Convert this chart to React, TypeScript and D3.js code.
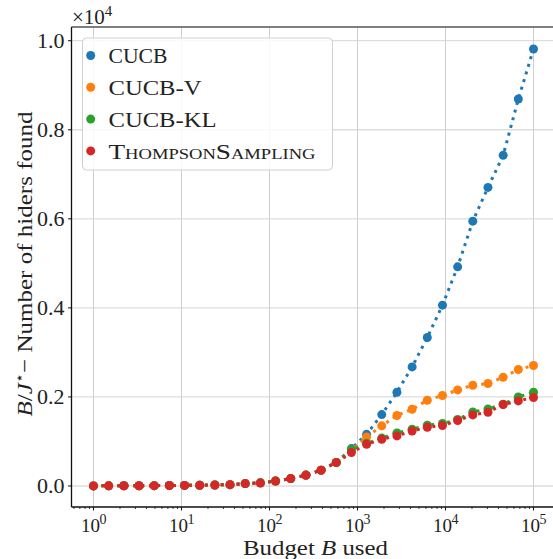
import React from "react";
import * as d3 from "d3";

const budget = [1, 1.487, 2.212, 3.29, 4.894, 7.279, 10.83, 16.1, 23.95, 35.62, 52.98, 78.8, 117.2, 174.3, 259.3, 385.7, 573.7, 853.2, 1269, 1887, 2807, 4175, 6210, 9237, 13738, 20434, 30392, 45204, 67234, 100000];
const cucb = [2, 3, 4, 6, 8, 10, 13, 17, 22, 30, 54, 70, 112, 166, 245, 355, 530, 840, 1160, 1604, 2106, 2674, 3335, 4061, 4922, 5948, 6706, 7425, 8690, 9813];
const cucbV = [2, 3, 4, 6, 8, 10, 13, 17, 22, 30, 54, 70, 112, 166, 245, 355, 530, 810, 1101, 1350, 1582, 1724, 1926, 2031, 2157, 2263, 2301, 2443, 2615, 2705];
const cucbKL = [2, 3, 4, 6, 8, 10, 13, 17, 22, 30, 54, 70, 112, 166, 245, 355, 530, 818, 960, 1075, 1191, 1274, 1364, 1402, 1492, 1663, 1731, 1836, 2000, 2106];
const thompson = [2, 3, 4, 6, 8, 10, 13, 17, 22, 30, 54, 68, 110, 166, 240, 353, 526, 750, 935, 1049, 1124, 1236, 1319, 1357, 1470, 1596, 1656, 1829, 1910, 1987];

const seriesNames = ["CUCB", "CUCB-V", "CUCB-KL", "ThompsonSampling"];
const seriesValues = [cucb, cucbV, cucbKL, thompson];
const seriesColors = ["#1f77b4", "#ff7f0e", "#2ca02c", "#d62728"];

const yTicks = [0, 2000, 4000, 6000, 8000, 10000];
const yTickLabels = ["0.0", "0.2", "0.4", "0.6", "0.8", "1.0"];
const xTicks = [1, 10, 100, 1000, 10000, 100000];
const xTickExps = ["0", "1", "2", "3", "4", "5"];

const W = 553, H = 559;
const L = 71.5, R = 555.5, T = 27, B = 507;

export default function App() {
  const x = d3.scaleLog().domain([Math.pow(10, -0.25), Math.pow(10, 5.25)]).range([L, R]);
  const y = d3.scaleLinear().domain([-472, 10308]).range([B, T]);
  const line = d3.line<number>().x((_, i) => x(budget[i])).y((v) => y(v));

  const minor: number[] = [];
  for (let k = -1; k <= 5; k++) {
    for (let m = 2; m <= 9; m++) {
      const v = m * Math.pow(10, k);
      if (x(v) >= L && x(v) <= R) minor.push(v);
    }
  }
  const serif = "'Liberation Serif', 'DejaVu Serif', serif";
  const legendWidths = [59, 93, 108, 207];

  return (
    <svg width={W} height={H} style={{ position: "absolute", left: 0, top: 0, background: "#fff" }} fontFamily={serif}>
      <rect x={0} y={0} width={W} height={H} fill="#fff" />
      {/* grid */}
      {yTicks.map((t) => (
        <line key={"gy" + t} x1={L} x2={W} y1={y(t)} y2={y(t)} stroke="#dddddd" strokeWidth={1.3} />
      ))}
      {xTicks.map((t) => (
        <line key={"gx" + t} x1={x(t)} x2={x(t)} y1={T} y2={B} stroke="#cfcfcf" strokeWidth={1} />
      ))}
      {/* series */}
      {seriesValues.map((vals, s) => (
        <g key={"s" + s}>
          <path d={line(vals) || ""} fill="none" stroke={seriesColors[s]} strokeWidth={3} strokeDasharray="3 4.95" />
          {vals.map((v, i) => (
            <circle key={i} cx={x(budget[i])} cy={y(v)} r={4.5} fill={seriesColors[s]} />
          ))}
        </g>
      ))}
      {/* legend */}
      <rect x={82.5} y={38} width={250} height={132} rx={4} fill="#fff" fillOpacity={0.85} stroke="#d0d0d0" strokeWidth={1} />
      {seriesNames.map((n, i) => {
        const cy = 55.5 + i * 31.8;
        return (
          <g key={"l" + n}>
            <circle cx={90.7} cy={cy} r={4.5} fill={seriesColors[i]} />
            <text
              x={108.5}
              y={cy + 7.6}
              fontSize={22}
              fill="#222"
              textLength={legendWidths[i]}
              lengthAdjust="spacingAndGlyphs"
              style={i === 3 ? { fontVariant: "small-caps" } : undefined}
            >
              {n}
            </text>
          </g>
        );
      })}
      {/* spines */}
      <line x1={L} x2={W} y1={T} y2={T} stroke="#555" strokeWidth={1.5} />
      <line x1={L} x2={L} y1={T} y2={B} stroke="#111" strokeWidth={1.3} />
      <line x1={L} x2={W} y1={B} y2={B} stroke="#111" strokeWidth={1.3} />
      {/* y ticks */}
      {yTicks.map((t, i) => (
        <g key={"yt" + t}>
          <line x1={L - 3.5} x2={L} y1={y(t)} y2={y(t)} stroke="#111" strokeWidth={1} />
          <text x={64.5} y={y(t) + 7.5} fontSize={22} textAnchor="end" fill="#222">
            {yTickLabels[i]}
          </text>
        </g>
      ))}
      {/* x ticks */}
      {minor.map((t) => (
        <line key={"mx" + t} x1={x(t)} x2={x(t)} y1={B} y2={B + 2} stroke="#111" strokeWidth={0.8} />
      ))}
      {xTicks.map((t, i) => (
        <g key={"xt" + t}>
          <line x1={x(t)} x2={x(t)} y1={B} y2={B + 3.5} stroke="#111" strokeWidth={1} />
          <text x={x(t) - 3} y={531.5} fontSize={19} textAnchor="middle" fill="#222">
            10
          </text>
          <text x={x(t) + 9.5} y={524} fontSize={14} textAnchor="middle" fill="#222">
            {xTickExps[i]}
          </text>
        </g>
      ))}
      {/* offset text */}
      <text x={72} y={24} fontSize={21} fill="#222">
        ×10<tspan fontSize={15} dy={-8}>4</tspan>
      </text>
      {/* x label */}
      <text x={315.5} y={554.5} fontSize={21} textAnchor="middle" fill="#222" textLength={145} lengthAdjust="spacingAndGlyphs">
        Budget <tspan fontStyle="italic">B</tspan> used
      </text>
      {/* y label */}
      <text transform="translate(32,264) rotate(-90)" fontSize={22} textAnchor="middle" fill="#222" textLength={305} lengthAdjust="spacingAndGlyphs">
        <tspan fontStyle="italic">B</tspan>/<tspan fontStyle="italic">J</tspan><tspan fontSize={14} dy={-8}>⋆</tspan><tspan dy={8}>− Number of hiders found</tspan>
      </text>
    </svg>
  );
}
